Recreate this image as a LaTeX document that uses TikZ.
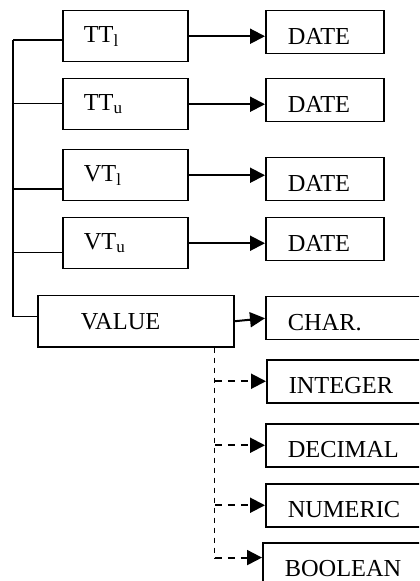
\documentclass[tikz,border=0pt]{standalone}
\usepackage{fontspec}
\setmainfont{Liberation Serif}
\usetikzlibrary{arrows.meta,calc}

\begin{document}
\begin{tikzpicture}[
  x=0.5pt, y=-0.5pt,
  font=\fontsize{12.2}{14}\selectfont,
  >={Triangle[length=7.5pt,width=7.5pt]},
  field/.style={draw,line width=0.75pt,anchor=north west,minimum height=25.5pt,
    inner xsep=10.5pt,text width=41.5pt,align=left},
  valuebox/.style={field,inner xsep=21.5pt,text width=55pt},
  typebox/.style={draw,line width=0.75pt,anchor=north west,minimum height=21.5pt,
    inner xsep=11pt,text width=37pt,align=left,text height=12.4pt,text depth=0pt},
  widebox/.style={typebox,text width=63pt},
  link/.style={line width=0.65pt},
  solidarr/.style={->,line width=1pt},
  dasharr/.style={->,line width=1pt,dash pattern=on 3.5pt off 3pt}
]
\clip (0,0) rectangle (419,581);

% attribute fields
\node[field] (TTl) at (62,10) {TT\textsubscript{l}};
\node[field] (TTu) at (62,78) {TT\textsubscript{u}};
\node[field] (VTl) at (62,149) {VT\textsubscript{l}};
\node[field] (VTu) at (62,217) {VT\textsubscript{u}};
\node[valuebox] (VALUE) at (37,295) {VALUE};

% their types
\node[typebox] (dateA) at (265,10) {DATE};
\node[typebox] (dateB) at (265,78) {DATE};
\node[typebox] (dateC) at (265,157) {DATE};
\node[typebox] (dateD) at (265,217) {DATE};
\node[widebox] (CHAR) at (265,296) {CHAR.};
\node[widebox] (INTEGER) at (266,359) {INTEGER};
\node[widebox] (DECIMAL) at (265,423) {DECIMAL};
\node[widebox] (NUMERIC) at (265,483) {NUMERIC};
\node[widebox] (BOOLEAN) at (262,542) {BOOLEAN};

% tree on the left
\coordinate (trunk) at (13,0);
\foreach \f/\t in {TTl/0.57,TTu/0.49,VTl/0.76,VTu/0.67,VALUE/0.41} {
  \coordinate (b\f) at ($(\f.north west)!\t!(\f.south west)$);
  \draw[link] (b\f) -- (b\f -| trunk);
}
\draw[link] (bTTl -| trunk) -- (bVALUE -| trunk);

% fields to types
\foreach \f/\d in {TTl/dateA,TTu/dateB,VTl/dateC,VTu/dateD}
  \draw[solidarr] (\f.east) -- (\f.east -| \d.west);
\draw[solidarr] (VALUE.east) -- (CHAR.west);

% other value types
\coordinate (tap) at ($(VALUE.south west)!0.9!(VALUE.south east)$);
\coordinate (bBOOL) at ($(BOOLEAN.north west)!0.35!(BOOLEAN.south west)$);
\draw[link,dash pattern=on 2.5pt off 2.5pt] (tap) -- (tap |- bBOOL);
\foreach \t in {INTEGER,DECIMAL,NUMERIC}
  \draw[dasharr] (tap |- \t.west) -- (\t.west);
\draw[dasharr] (tap |- bBOOL) -- (bBOOL);

\end{tikzpicture}
\end{document}
